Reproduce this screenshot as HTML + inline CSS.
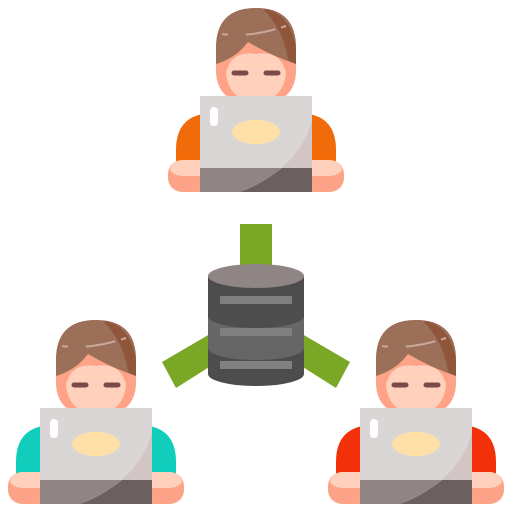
<!DOCTYPE html>
<html><head><style>html,body{margin:0;padding:0;background:#fff}svg{display:block}</style></head><body>
<svg width="512" height="512" viewBox="0 0 512 512" xmlns="http://www.w3.org/2000/svg">
<defs>
<g id="p">
  <!-- head -->
  <path d="M216,48 Q216,8 256,8 Q296,8 296,48 L296,70 Q296,104 256,104 Q216,104 216,70 Z" fill="#ffa388"/>
  <path d="M226,72 Q232,50 256,54 Q280,50 286,72 Q284,100 256,102 Q228,100 226,72 Z" fill="#ffd0bb"/>
  <!-- hair -->
  <path d="M216,48 Q216,8 256,8 Q296,8 296,48 L296,64 Q272,56 248,42 Q236,58 216,64 Z" fill="#9c6f58"/>
  <path d="M263,9 Q290,12 296,48 L296,64 L288,60 Q284,30 263,9 Z" fill="#8f563c"/>
  <path d="M222,34 Q250,38 286,26" stroke="#c7a89a" stroke-width="2" fill="none" stroke-dasharray="6 18 30 6"/>
  <!-- eyes -->
  <path d="M234,73 L246,73" stroke="#7a4a4a" stroke-width="5" stroke-linecap="round" fill="none"/>
  <path d="M266,73 L278,73" stroke="#7a4a4a" stroke-width="5" stroke-linecap="round" fill="none"/>
  <!-- hands -->
  <rect x="168" y="160" width="44" height="32" rx="14" fill="#ffa388"/>
  <rect x="300" y="160" width="44" height="32" rx="14" fill="#ffa388"/>
  <path d="M170,170 Q172,160 184,160 L212,160 L212,176 L184,176 Q174,176 170,170 Z" fill="#ffd0bb"/>
  <path d="M342,170 Q340,160 328,160 L300,160 L300,176 L328,176 Q338,176 342,170 Z" fill="#ffd0bb"/>
  <!-- laptop -->
  <rect x="200" y="96" width="112" height="72" fill="#dbd6d6"/>
  <rect x="200" y="168" width="112" height="24" fill="#8f8585"/>
  <path d="M312,120 Q300,168 240,192 L312,192 Z" fill="#d2c0c0" opacity="0.8"/>
  <path d="M282,168 Q262,184 240,192 L312,192 L312,168 Z" fill="#6b6060"/>
  <ellipse cx="256" cy="132" rx="24" ry="12" fill="#ffe1a8"/>
  <rect x="210" y="107" width="8" height="19" rx="4" fill="#fff"/>
</g>
</defs>
<!-- connectors -->
<rect x="240" y="224" width="32" height="42" fill="#7aa725"/>
<polygon points="162,362 176,388 214,364 210,334" fill="#7aa725"/>
<polygon points="350,362 336,388 298,364 302,334" fill="#7aa725"/>
<!-- database -->
<path d="M208,276 L208,374 A48,12 0 0 0 304,374 L304,276 Z" fill="#4d4d4d"/>
<path d="M208,316 A48,12 0 0 0 304,316 L304,348 A48,12 0 0 1 208,348 Z" fill="#666"/>
<ellipse cx="256" cy="276" rx="48" ry="12" fill="#8f8585"/>
<rect x="220" y="296" width="72" height="8" fill="#808080"/>
<rect x="220" y="328" width="72" height="8" fill="#808080"/>
<rect x="220" y="361" width="72" height="8" fill="#808080"/>
<!-- people -->
<g>
  <path d="M176,165 L176,150 Q176,113 214,113 L298,113 Q336,113 336,150 L336,165 Z" fill="#f26b0a"/>
  <use href="#p"/>
</g>
<g transform="translate(-160,312)">
  <path d="M176,165 L176,150 Q176,113 214,113 L298,113 Q336,113 336,150 L336,165 Z" fill="#11cdbb"/>
  <use href="#p"/>
</g>
<g transform="translate(160,312)">
  <path d="M176,165 L176,150 Q176,113 214,113 L298,113 Q336,113 336,150 L336,165 Z" fill="#f2300a"/>
  <use href="#p"/>
</g>
</svg>
</body></html>
